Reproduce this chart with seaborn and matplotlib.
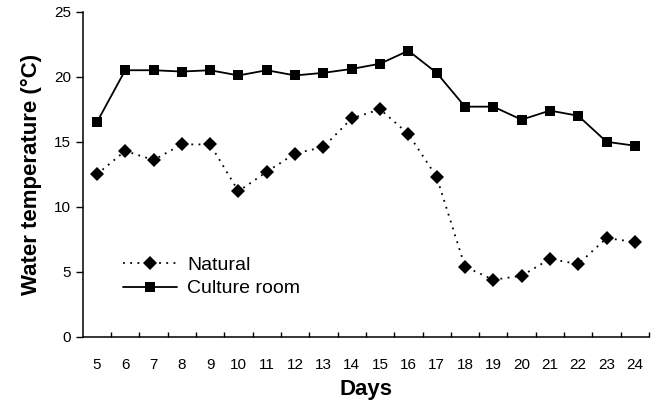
import matplotlib
matplotlib.use("Agg")
import matplotlib.pyplot as plt
from matplotlib.ticker import FixedLocator
import seaborn as sns
import pandas as pd

days = list(range(5, 25))
natural = [12.5, 14.3, 13.6, 14.8, 14.8, 11.2, 12.7, 14.1, 14.6, 16.8,
           17.5, 15.6, 12.3, 5.4, 4.4, 4.7, 6.0, 5.6, 7.6, 7.3]
culture = [16.5, 20.5, 20.5, 20.4, 20.5, 20.1, 20.5, 20.1, 20.3, 20.6,
           21.0, 22.0, 20.3, 17.7, 17.7, 16.7, 17.4, 17.0, 15.0, 14.7]
series_names = ["Natural", "Culture room"]
x_label = "Days"
y_label = "Water temperature (°C)"
y_ticks = [0, 5, 10, 15, 20, 25]

sns.set_theme(style="ticks")
plt.rcParams["font.family"] = ["Liberation Sans", "DejaVu Sans"]

df = pd.DataFrame({
    "day": days * 2,
    "temp": natural + culture,
    "series": [series_names[0]] * len(days) + [series_names[1]] * len(days),
})

fig = plt.figure(figsize=(6.54, 4.07), dpi=100)
ax = fig.add_axes([0.1265, 0.172, 0.8659, 0.7993])

sns.lineplot(data=df[df.series == series_names[0]], x="day", y="temp",
             color="black", marker="D", markersize=7.2, markeredgewidth=0,
             linestyle=(0, (1, 3)), linewidth=1.3, label=series_names[0], ax=ax)
sns.lineplot(data=df[df.series == series_names[1]], x="day", y="temp",
             color="black", marker="s", markersize=7.8, markeredgewidth=0,
             linestyle="-", linewidth=1.3, label=series_names[1], ax=ax)

ax.set_xlim(days[0] - 0.5, days[-1] + 0.5)
ax.set_ylim(y_ticks[0], y_ticks[-1])
ax.set_xticks(days)
ax.set_xticklabels([str(d) for d in days])
ax.xaxis.set_minor_locator(FixedLocator([d + 0.5 for d in days]))
ax.set_yticks(y_ticks)

for side in ["top", "right"]:
    ax.spines[side].set_visible(False)
for side in ["left", "bottom"]:
    ax.spines[side].set_linewidth(1.1)
    ax.spines[side].set_color("black")

ax.tick_params(axis="x", which="major", length=0, pad=15, labelsize=11, colors="black")
ax.tick_params(axis="x", which="minor", direction="in", length=3.8, width=1.0, color="black")
ax.tick_params(axis="y", which="major", direction="out", length=4.8, width=1.0,
               pad=3.5, labelsize=11, colors="black")

ax.set_xlabel(x_label, fontsize=16, fontweight="bold", labelpad=5, color="black")
ax.set_ylabel(y_label, fontsize=16, fontweight="bold", labelpad=9, color="black")

leg = ax.legend(loc="center left", bbox_to_anchor=(0.071, 0.185), frameon=False,
                fontsize=14, handlelength=2.8, handletextpad=0.5,
                labelspacing=0.3, borderpad=0, borderaxespad=0)
for t in leg.get_texts():
    t.set_color("black")

fig.savefig("out.png", dpi=100)
